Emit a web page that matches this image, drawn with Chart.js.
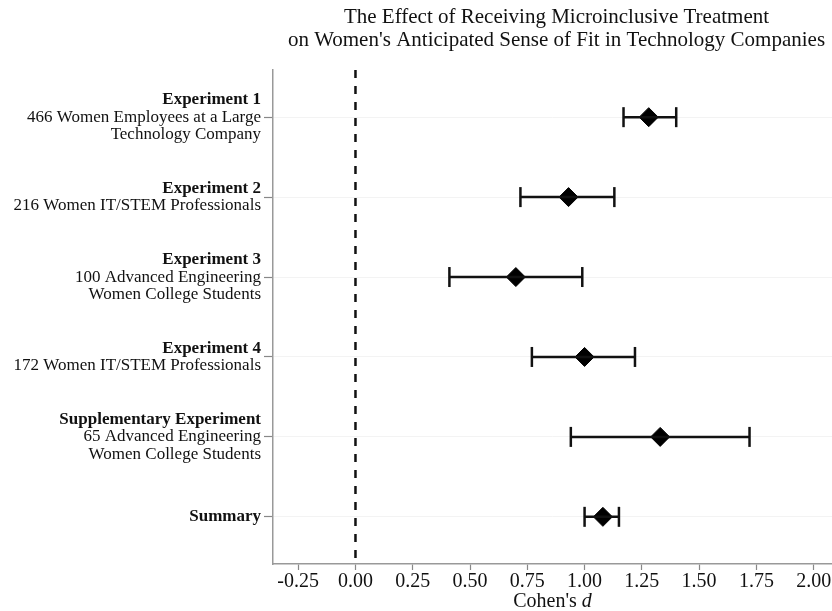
<!DOCTYPE html>
<html>
<head>
<meta charset="utf-8">
<script src="https://cdn.jsdelivr.net/npm/chart.js@4"></script>
<style>
  html, body { margin: 0; padding: 0; background: #fff; }
  #wrap { width: 832px; height: 611px; }
</style>
</head>
<body>
<div id="wrap"><canvas id="forest"></canvas></div>
<script>
const titleLines = [
  'The Effect of Receiving Microinclusive Treatment',
  "on Women's Anticipated Sense of Fit in Technology Companies",
];
const studyNames = ['Experiment 1', 'Experiment 2', 'Experiment 3', 'Experiment 4', 'Supplementary Experiment', 'Summary'];
const studyDetails = [
  ['466 Women Employees at a Large', 'Technology Company'],
  ['216 Women IT/STEM Professionals'],
  ['100 Advanced Engineering', 'Women College Students'],
  ['172 Women IT/STEM Professionals'],
  ['65 Advanced Engineering', 'Women College Students'],
  [],
];
const effectSizes = [1.28, 0.93, 0.70, 1.00, 1.33, 1.08];
const ciLower = [1.17, 0.72, 0.41, 0.77, 0.94, 1.00];
const ciUpper = [1.40, 1.13, 0.99, 1.22, 1.72, 1.15];
const xTicks = [-0.25, 0, 0.25, 0.5, 0.75, 1, 1.25, 1.5, 1.75, 2];

const serif = '"Liberation Serif", "Times New Roman", serif';
const yMin = -0.59, yMax = 5.59;

const ciSets = studyNames.map((name, i) => ({
  type: 'line',
  label: name + ' CI',
  data: [{ x: ciLower[i], y: i }, { x: ciUpper[i], y: i }],
  borderColor: '#111',
  borderWidth: 2.5,
  pointStyle: 'line',
  pointRotation: 90,
  pointRadius: 10,
  pointBorderWidth: 2.5,
  pointBorderColor: '#111',
  pointHoverRadius: 10,
}));

const zeroLine = {
  type: 'line',
  label: 'zero',
  data: [{ x: 0, y: yMin }, { x: 0, y: yMax + 0.1 }],
  borderColor: '#111',
  borderWidth: 2.5,
  borderDash: [8, 8],
  pointRadius: 0,
};

const pointSet = {
  type: 'scatter',
  label: "Cohen's d",
  data: effectSizes.map((d, i) => ({ x: d, y: i })),
  pointStyle: 'rectRot',
  pointRadius: 9.5,
  pointHoverRadius: 9.5,
  backgroundColor: '#000',
  borderColor: '#000',
  borderWidth: 1,
};

const textPlugin = {
  id: 'forestText',
  afterDraw(chart) {
    const { ctx, chartArea, scales } = chart;
    const cx = (chartArea.left + chartArea.right) / 2;
    ctx.save();
    ctx.fillStyle = '#111';
    ctx.textBaseline = 'middle';

    // title
    ctx.textAlign = 'center';
    ctx.font = '21px ' + serif;
    ctx.fillText(titleLines[0], cx + 4, 17);
    ctx.fillText(titleLines[1], cx + 4, 40);

    // row labels
    ctx.textAlign = 'right';
    const lh = 17.5;
    studyNames.forEach((name, i) => {
      const lines = [name].concat(studyDetails[i]);
      const yPix = scales.y.getPixelForValue(i);
      const top = yPix - (lines.length - 1) * lh / 2;
      lines.forEach((line, k) => {
        ctx.font = (k === 0 ? 'bold ' : '') + '17px ' + serif;
        ctx.fillText(line, 261, top + k * lh);
      });
    });

    // x axis title with italic d
    ctx.textAlign = 'left';
    const a = "Cohen's ";
    ctx.font = '20px ' + serif;
    const wa = ctx.measureText(a).width;
    ctx.font = 'italic 20px ' + serif;
    const wb = ctx.measureText('d').width;
    const x0 = cx - (wa + wb) / 2;
    ctx.font = '20px ' + serif;
    ctx.fillText(a, x0, 602);
    ctx.font = 'italic 20px ' + serif;
    ctx.fillText('d', x0 + wa, 602);
    ctx.restore();
  },
};

new Chart(document.getElementById('forest'), {
  data: { datasets: [zeroLine, ...ciSets, pointSet] },
  options: {
    responsive: true,
    maintainAspectRatio: false,
    animation: false,
    layout: { autoPadding: false, padding: { top: 70, left: 0, right: 0, bottom: 17 } },
    plugins: {
      legend: { display: false },
      tooltip: { enabled: false },
    },
    scales: {
      x: {
        type: 'linear',
        min: -0.36,
        max: 2.08,
        afterBuildTicks: (scale) => { scale.ticks = xTicks.map((v) => ({ value: v })); },
        afterFit: (scale) => {
          scale.height = 30;
          scale.paddingLeft = 0;
          scale.paddingRight = 0;
        },
        ticks: {
          font: { family: serif, size: 20 },
          color: '#111',
          padding: 0,
          maxRotation: 0,
          callback: (v) => Number(v).toFixed(2),
        },
        grid: { drawOnChartArea: false, drawTicks: true, tickLength: 6, tickColor: '#888', tickWidth: 1.2 },
        border: { color: '#999', width: 1.5 },
      },
      y: {
        type: 'linear',
        reverse: true,
        min: yMin,
        max: yMax,
        afterBuildTicks: (scale) => { scale.ticks = studyNames.map((_, i) => ({ value: i })); },
        afterFit: (scale) => { scale.width = 273; },
        ticks: { display: false },
        grid: { color: '#f3f3f3', lineWidth: 1, drawTicks: true, tickLength: 9, tickColor: '#888', tickWidth: 1.2 },
        border: { color: '#999', width: 1.5 },
      },
    },
  },
  plugins: [textPlugin],
});
</script>
</body>
</html>
